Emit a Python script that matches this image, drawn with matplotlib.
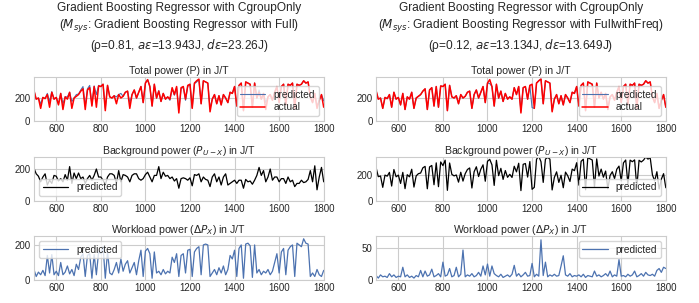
import numpy as np
import matplotlib
matplotlib.use("Agg")
import matplotlib.pyplot as plt
import seaborn as sns

# time axis (sampled every 10 units)
t = np.arange(500, 1801, 10)

# measured total power (same trace on both sides)
actual = [
    265, 190, 200, 110, 205, 195, 230, 120, 250, 190,
    205, 140, 240, 100, 210, 190, 250, 110, 200, 215,
    230, 260, 280, 100, 270, 290, 130, 300, 120, 305,
    300, 320, 90, 310, 210, 200, 220, 150, 230, 200,
    215, 250, 260, 110, 230, 270, 200, 250, 300, 160,
    330, 360, 300, 130, 320, 200, 260, 170, 240, 190,
    210, 190, 290, 230, 300, 70, 290, 300, 190, 310,
    320, 110, 330, 350, 365, 150, 350, 340, 330, 80,
    190, 230, 150, 220, 140, 230, 200, 160, 250, 240,
    300, 130, 310, 330, 90, 340, 330, 320, 120, 330,
    200, 250, 190, 240, 100, 210, 230, 180, 250, 300,
    160, 300, 320, 140, 320, 310, 330, 110, 320, 310,
    320, 350, 330, 340, 210, 160, 240, 110, 180, 230,
    120,
]

# left model: CgroupOnly vs Full
bg_left = [
    205, 170, 155, 120, 150, 170, 100, 130, 110, 160,
    155, 125, 140, 120, 165, 130, 215, 110, 175, 140,
    175, 140, 150, 110, 140, 160, 130, 160, 200, 150,
    150, 130, 100, 150, 170, 170, 160, 110, 190, 120,
    165, 160, 150, 120, 160, 170, 170, 140, 130, 140,
    165, 180, 150, 120, 160, 160, 215, 140, 180, 155,
    160, 140, 150, 125, 140, 80, 140, 145, 140, 130,
    145, 95, 165, 160, 170, 120, 150, 135, 130, 90,
    150, 170, 120, 150, 100, 150, 170, 100, 110, 120,
    130, 110, 130, 130, 80, 135, 120, 125, 105, 130,
    160, 210, 160, 190, 120, 150, 200, 130, 150, 150,
    120, 140, 140, 110, 150, 120, 130, 90, 110, 110,
    130, 115, 120, 135, 190, 120, 220, 70, 150, 210,
    120,
]
wl_left = [
    60, 20, 45, 30, 55, 25, 140, 40, 145, 30,
    50, 25, 100, 30, 45, 80, 35, 60, 25, 90,
    60, 130, 150, 20, 140, 150, 10, 145, 30, 160,
    150, 190, 10, 160, 40, 30, 60, 100, 40, 120,
    50, 90, 110, 40, 70, 100, 30, 110, 170, 20,
    165, 180, 150, 10, 160, 40, 50, 30, 60, 35,
    50, 40, 130, 100, 150, 20, 140, 150, 40, 170,
    175, 20, 160, 180, 190, 30, 200, 205, 200, 20,
    40, 60, 30, 70, 40, 80, 30, 60, 140, 120,
    170, 20, 180, 200, 10, 205, 210, 195, 15, 200,
    40, 60, 30, 50, 40, 60, 30, 50, 100, 150,
    40, 160, 180, 30, 170, 190, 200, 20, 210, 200,
    190, 235, 210, 205, 20, 40, 20, 60, 30, 20,
    55,
]

# right model: CgroupOnly vs FullwithFreq
bg_right = [
    258, 187, 192, 105, 199, 191, 220, 115, 242, 186,
    199, 135, 220, 95, 202, 186, 244, 107, 193, 210,
    215, 255, 266, 94, 262, 273, 125, 293, 110, 300,
    272, 314, 82, 292, 205, 193, 200, 145, 221, 153,
    210, 242, 254, 100, 225, 263, 188, 244, 278, 152,
    305, 320, 278, 120, 313, 195, 251, 166, 234, 182,
    205, 181, 267, 224, 290, 80, 282, 288, 184, 303,
    90, 105, 321, 344, 302, 143, 322, 335, 322, 85,
    181, 224, 143, 198, 102, 222, 194, 150, 245, 233,
    294, 122, 305, 321, 86, 333, 324, 315, 106, 324,
    192, 245, 183, 230, 94, 196, 225, 172, 244, 268,
    154, 293, 315, 131, 314, 302, 316, 105, 313, 300,
    314, 338, 322, 333, 201, 154, 225, 92, 168, 210,
    102,
]
wl_right = [
    7, 3, 8, 5, 6, 4, 10, 5, 8, 4,
    6, 5, 20, 5, 8, 4, 6, 3, 7, 5,
    15, 5, 14, 6, 8, 17, 5, 7, 10, 5,
    28, 6, 8, 18, 5, 7, 20, 5, 9, 47,
    5, 8, 6, 10, 5, 7, 12, 6, 22, 8,
    25, 6, 22, 10, 7, 5, 9, 4, 6, 8,
    5, 9, 23, 6, 10, 5, 8, 12, 6, 7,
    26, 5, 9, 6, 63, 7, 28, 5, 8, 6,
    9, 6, 7, 22, 38, 8, 6, 10, 5, 7,
    6, 8, 5, 9, 4, 7, 6, 5, 14, 6,
    8, 5, 7, 10, 6, 14, 5, 8, 6, 32,
    6, 7, 5, 9, 6, 8, 14, 5, 7, 10,
    6, 12, 8, 7, 9, 6, 15, 18, 12, 20,
    18,
]

titles = [
    "Gradient Boosting Regressor with CgroupOnly\n"
    "($M_{sys}$: Gradient Boosting Regressor with Full)\n"
    "(ρ=0.81, $a\\varepsilon$=13.943J, $d\\varepsilon$=23.26J)",
    "Gradient Boosting Regressor with CgroupOnly\n"
    "($M_{sys}$: Gradient Boosting Regressor with FullwithFreq)\n"
    "(ρ=0.12, $a\\varepsilon$=13.134J, $d\\varepsilon$=13.649J)",
]

sns.set_style("whitegrid")
plt.rcParams["font.family"] = ["Liberation Sans", "DejaVu Sans"]
plt.rcParams["xtick.labelsize"] = 7
plt.rcParams["ytick.labelsize"] = 7
plt.rcParams["axes.linewidth"] = 0.8
plt.rcParams["grid.linewidth"] = 0.8

blue = "#4c72b0"
fig = plt.figure(figsize=(6.99, 3.03), dpi=100)

cols = [
    dict(x0=0.0486, bg=bg_left, wl=wl_left, lims=(383, 275, 251),
         yt=([0, 200], [0, 200], [0, 200]), loc=("lower right", "lower left", "upper left")),
    dict(x0=0.538, bg=bg_right, wl=wl_right, lims=(383, 338, 69),
         yt=([0, 200], [0, 200], [0, 50]), loc=("lower right", "lower right", "upper right")),
]
bottoms = [0.6007, 0.3366, 0.0759]
h = 0.1452
w = 0.4145

for c, col in enumerate(cols):
    bg = np.array(col["bg"])
    wl = np.array(col["wl"])
    axs = [fig.add_axes([col["x0"], b, w, h]) for b in bottoms]

    axs[0].plot(t, bg + wl, color=blue, lw=0.8, label="predicted")
    axs[0].plot(t, actual, color="red", lw=1.1, label="actual")
    axs[0].set_title("Total power (P) in J/T", fontsize=7.6, pad=2)

    axs[1].plot(t, bg, color="black", lw=0.9, label="predicted")
    axs[1].set_title("Background power ($P_{U-X}$) in J/T", fontsize=7.6, pad=2)

    axs[2].plot(t, wl, color=blue, lw=0.9, label="predicted")
    axs[2].set_title("Workload power ($\\Delta P_X$) in J/T", fontsize=7.6, pad=2)

    for i, ax in enumerate(axs):
        ax.set_xlim(500, 1800)
        ax.set_ylim(0, col["lims"][i])
        ax.set_xticks([600, 800, 1000, 1200, 1400, 1600, 1800])
        ax.set_yticks(col["yt"][i])
        ax.tick_params(length=0, pad=2.5)
        ax.legend(loc=col["loc"][i], fontsize=7.3, handlelength=2.5,
                  borderpad=0.35, labelspacing=0.25)

    fig.text(col["x0"] + w / 2, 0.995, titles[c], ha="center", va="top",
             fontsize=8.6, linespacing=1.3, color="0.15")

fig.savefig("out.png", dpi=100)
